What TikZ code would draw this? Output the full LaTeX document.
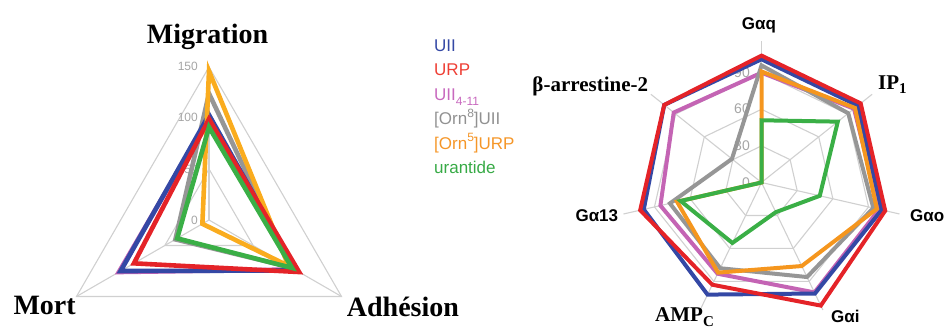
\documentclass[tikz,border=0pt]{standalone}
\usepackage{fontspec}
\setmainfont{Liberation Serif}
\setsansfont{Liberation Sans}
\definecolor{cblue}{RGB}{52,72,165}
\definecolor{cred}{RGB}{228,35,40}
\definecolor{cpurple}{RGB}{196,100,180}
\definecolor{cgray}{RGB}{150,150,150}
\definecolor{corangeL}{RGB}{250,172,30}
\definecolor{corangeR}{RGB}{245,150,30}
\definecolor{cgreen}{RGB}{58,175,70}
\definecolor{cgrid}{RGB}{208,208,208}
\definecolor{ctick}{RGB}{165,165,165}
\definecolor{lgred}{RGB}{238,62,52}
\definecolor{lgpurple}{RGB}{200,105,190}
\definecolor{lggray}{RGB}{145,145,145}
\definecolor{lgorange}{RGB}{245,150,40}
\definecolor{lggreen}{RGB}{55,170,70}
\newcommand\heptpath[7]{(90:#1) -- (38.571:#2) -- (-12.857:#3) -- (-64.286:#4) -- (-115.714:#5) -- (-167.143:#6) -- (141.429:#7) -- cycle}
\newcommand\tripath[3]{(90:#1) -- (-30:#2) -- (210:#3) -- cycle}
\newcommand\mysup[1]{\raisebox{0.42em}{\fontsize{12}{12}\selectfont #1}}
\newcommand\mysub[1]{\raisebox{-0.3em}{\fontsize{12}{12}\selectfont #1}}
\newcommand\myserifsub[1]{\raisebox{-0.22em}{\fontsize{15}{15}\selectfont #1}}
\begin{document}
\begin{tikzpicture}[x=1pt,y=1pt,line join=miter,
  grid/.style={draw=cgrid,line width=1.1pt},
  serL/.style={line width=4.6pt},
  serR/.style={line width=4pt},
  ttl/.style={font=\fontsize{28}{30}\selectfont\bfseries,inner sep=0pt},
  axs/.style={font=\fontsize{17}{19}\selectfont\sffamily\bfseries,inner sep=0pt},
  axr/.style={font=\fontsize{21}{23}\selectfont\bfseries,inner sep=0pt},
  tickL/.style={font=\fontsize{12}{12}\selectfont\sffamily,text=ctick,inner sep=0pt,anchor=east},
  tickR/.style={font=\fontsize{14}{14}\selectfont\sffamily,text=ctick,inner sep=0pt,anchor=east},
  lg/.style={font=\fontsize{17}{19}\selectfont\sffamily,inner sep=0pt,anchor=base west}]
\useasboundingbox (0,0) rectangle (944,329);

% ---------- left chart ----------
\begin{scope}[shift={(209,109)},scale=1.02]
  \draw[grid] \tripath{150}{150}{150};
  \draw[grid] \tripath{100}{100}{100};
  \draw[grid] \tripath{50}{50}{50};
  \draw[grid] (0,0) -- (90:150);
  \draw[grid] (0,0) -- (-30:150);
  \draw[grid] (0,0) -- (210:150);
\end{scope}
\node[tickL] (l150) at (198,263) {150};
\node[tickL] (l100) at (198,211.5) {100};
\node[tickL] (l50) at (198,160) {50};
\node[tickL] (l0) at (198,108.5) {0};
\begin{scope}[shift={(209,109)},scale=1.02]
  \draw[serL,cgray] \tripath{124}{93}{38};
  \draw[serL,cpurple] \tripath{100}{97}{102};
  \draw[serL,cblue] \tripath{103}{99}{100};
  \draw[serL,corangeL] \tripath{146}{90}{7.5};
  \draw[serL,cred] \tripath{99}{102}{85};
  \draw[serL,cgreen] \tripath{91}{94}{36};
\end{scope}
\node[ttl,anchor=base] (mig) at (207.5,285) {Migration};
\node[ttl,anchor=base west] (mort) at (13.3,14) {Mort};
\node[ttl,anchor=base west] (adh) at (346.7,12.5) {Adhésion};

% ---------- legend ----------
\node[lg,text=cblue] (lg1) at (434,277.5) {UII};
\node[lg,text=lgred] (lg2) at (434,253.1) {URP};
\node[lg,text=lgpurple] (lg3) at (434,228.7) {UII\mysub{4-11}};
\node[lg,text=lggray] (lg4) at (434,204.3) {[Orn\mysup{8}]UII};
\node[lg,text=lgorange] (lg5) at (434,179.9) {[Orn\mysup{5}]URP};
\node[lg,text=lggreen] (lg6) at (434,155.5) {urantide};

% ---------- right chart ----------
\begin{scope}[shift={(761.5,146.5)},scale=1.22]
  \draw[grid] \heptpath{90}{90}{90}{90}{90}{90}{90};
  \draw[grid] \heptpath{60}{60}{60}{60}{60}{60}{60};
  \draw[grid] \heptpath{30}{30}{30}{30}{30}{30}{30};
  \foreach \a in {90,38.571,-12.857,-64.286,-115.714,-167.143,141.429}
    \draw[grid] (0,0) -- (\a:116);
\end{scope}
\node[tickR] (r90) at (750,256.5) {90};
\node[tickR] (r60) at (750,220) {60};
\node[tickR] (r30) at (750,183) {30};
\node[tickR] (r0) at (750,146) {0};
\begin{scope}[shift={(761.5,146.5)},scale=1.22]
  \draw[serR,cpurple] \heptpath{90}{97}{99}{100}{83}{85}{92};
  \draw[serR,cgray] \heptpath{96}{91}{94}{86}{78}{77}{31};
  \draw[serR,cblue] \heptpath{101}{101}{101}{101}{102}{99}{102};
  \draw[serR,cred] \heptpath{104}{104}{104}{112}{93}{102}{102};
  \draw[serR,corangeR] \heptpath{91}{98}{97}{76}{82}{71}{0};
  \draw[serR,cgreen] \heptpath{51}{80}{49}{27}{55}{68}{0};
\end{scope}
\node[axs,anchor=base] (gq) at (759,299.7) {Gαq};
\node[axr,anchor=base west] (ip) at (878,239.7) {IP\myserifsub{1}};
\node[axs,anchor=base west] (go) at (910,107.3) {Gαo};
\node[axs,anchor=base west] (gi) at (831,6.3) {Gαi};
\node[axr,anchor=base west] (amp) at (655,7.5) {AMP\myserifsub{C}};
\node[axs,anchor=base east] (g13) at (618.3,107.3) {Gα13};
\node[axr,anchor=base east] (barr) at (648.3,237.3) {β-arrestine-2};
\end{tikzpicture}
\end{document}
